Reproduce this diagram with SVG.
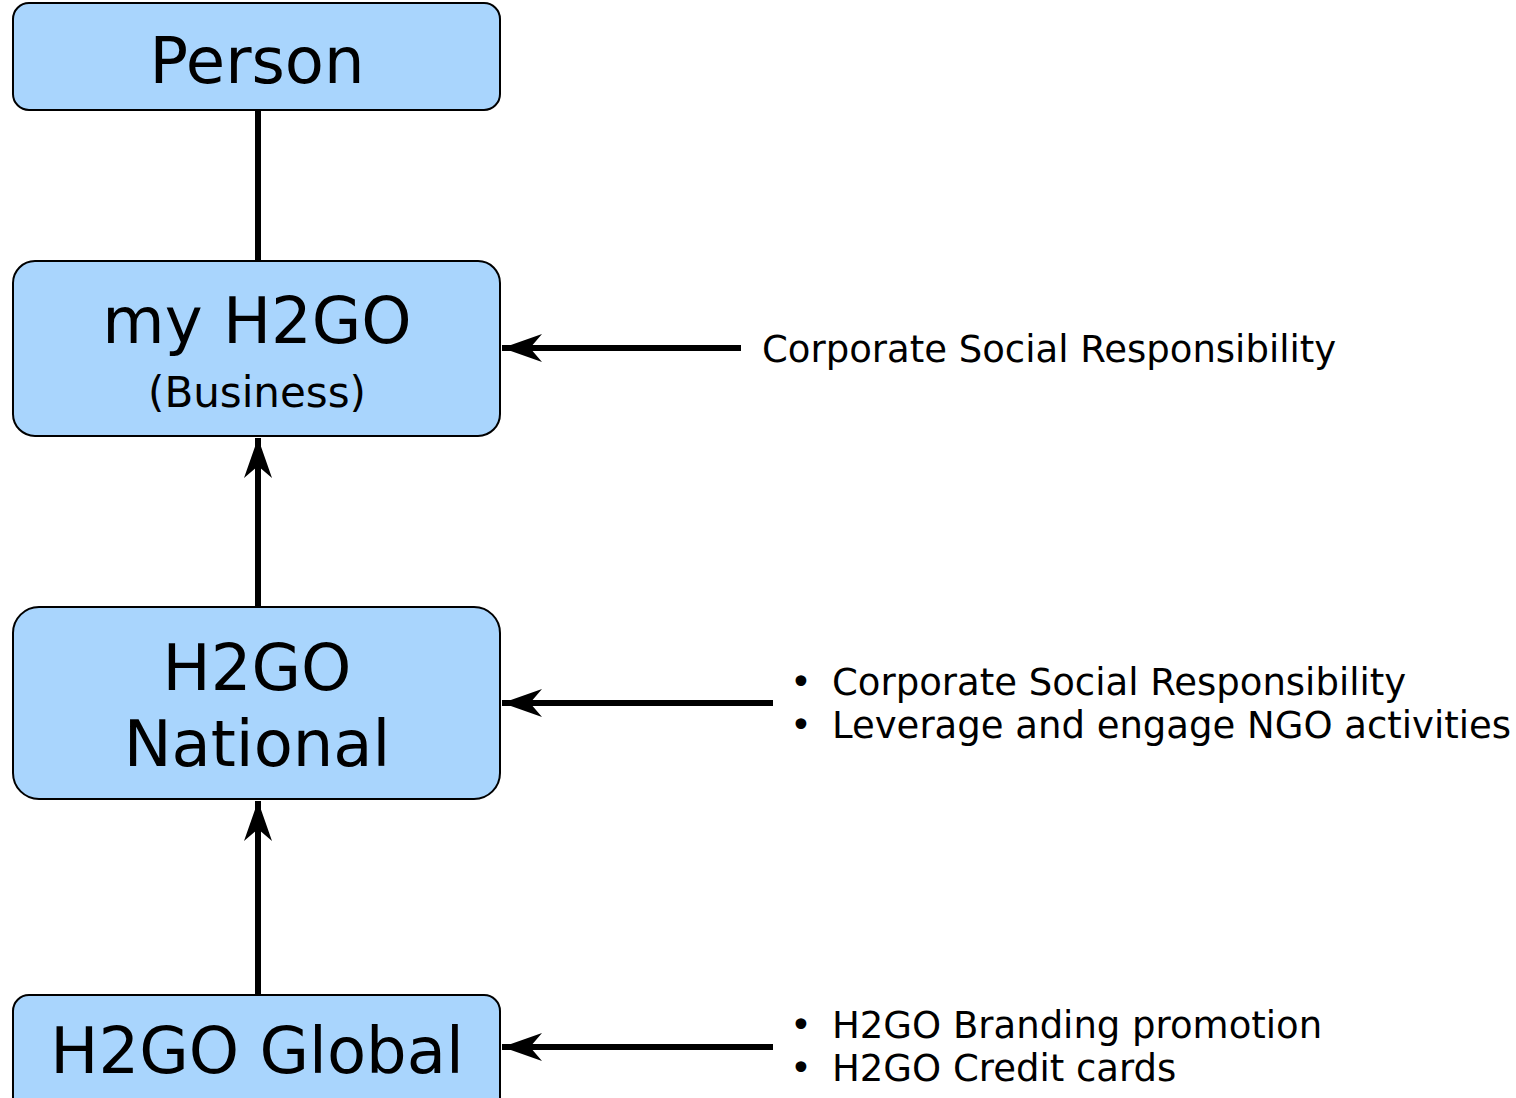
<svg xmlns="http://www.w3.org/2000/svg" width="1516" height="1098" viewBox="0 0 1516 1098">
<style>
.box{fill:#a9d5fd;stroke:#000;stroke-width:2}
.big{font-family:"DejaVu Sans",Verdana,sans-serif;font-size:64px;text-anchor:middle;fill:#000}
.mid{font-family:"DejaVu Sans",Verdana,sans-serif;font-size:42px;text-anchor:middle;fill:#000}
.lbl{font-family:"DejaVu Sans",Verdana,sans-serif;font-size:37px;fill:#000}
.ln{stroke:#000;stroke-width:6;fill:none}
</style>
<defs>
<marker id="ah" markerUnits="userSpaceOnUse" viewBox="0 0 40 30" markerWidth="40" markerHeight="30" refX="40" refY="15" orient="auto">
<path d="M40,15 L0,1 L12,15 L0,29 Z" fill="#000"/>
</marker>
</defs>
<rect width="1516" height="1098" fill="#fff"/>
<g id="connectors">
<line class="ln" x1="258" y1="110" x2="258" y2="261"/>
<line class="ln" x1="258" y1="607" x2="258" y2="438" marker-end="url(#ah)"/>
<line class="ln" x1="258" y1="995" x2="258" y2="801" marker-end="url(#ah)"/>
<line class="ln" x1="741" y1="348" x2="502" y2="348" marker-end="url(#ah)"/>
<line class="ln" x1="773" y1="703" x2="502" y2="703" marker-end="url(#ah)"/>
<line class="ln" x1="773" y1="1047" x2="502" y2="1047" marker-end="url(#ah)"/>
</g>
<g id="person">
<rect class="box" x="13" y="3" width="487" height="107" rx="16"/>
<text class="big" x="257" y="83">Person</text>
</g>
<g id="myh2go">
<rect class="box" x="13" y="261" width="487" height="175" rx="22"/>
<text class="big" x="257" y="343">my H2GO</text>
<text class="mid" x="257" y="407">(Business)</text>
</g>
<g id="national">
<rect class="box" x="13" y="607" width="487" height="192" rx="26"/>
<text class="big" x="257" y="690">H2GO</text>
<text class="big" x="257" y="766">National</text>
</g>
<g id="global">
<rect class="box" x="13" y="995" width="487" height="120" rx="16"/>
<text class="big" x="257" y="1073">H2GO Global</text>
</g>
<g id="labels">
<text class="lbl" x="762" y="362">Corporate Social Responsibility</text>
<text class="lbl" x="790" y="695">•</text>
<text class="lbl" x="832" y="695">Corporate Social Responsibility</text>
<text class="lbl" x="790" y="738">•</text>
<text class="lbl" x="832" y="738">Leverage and engage NGO activities</text>
<text class="lbl" x="790" y="1038">•</text>
<text class="lbl" x="832" y="1038">H2GO Branding promotion</text>
<text class="lbl" x="790" y="1081">•</text>
<text class="lbl" x="832" y="1081">H2GO Credit cards</text>
</g>
</svg>
